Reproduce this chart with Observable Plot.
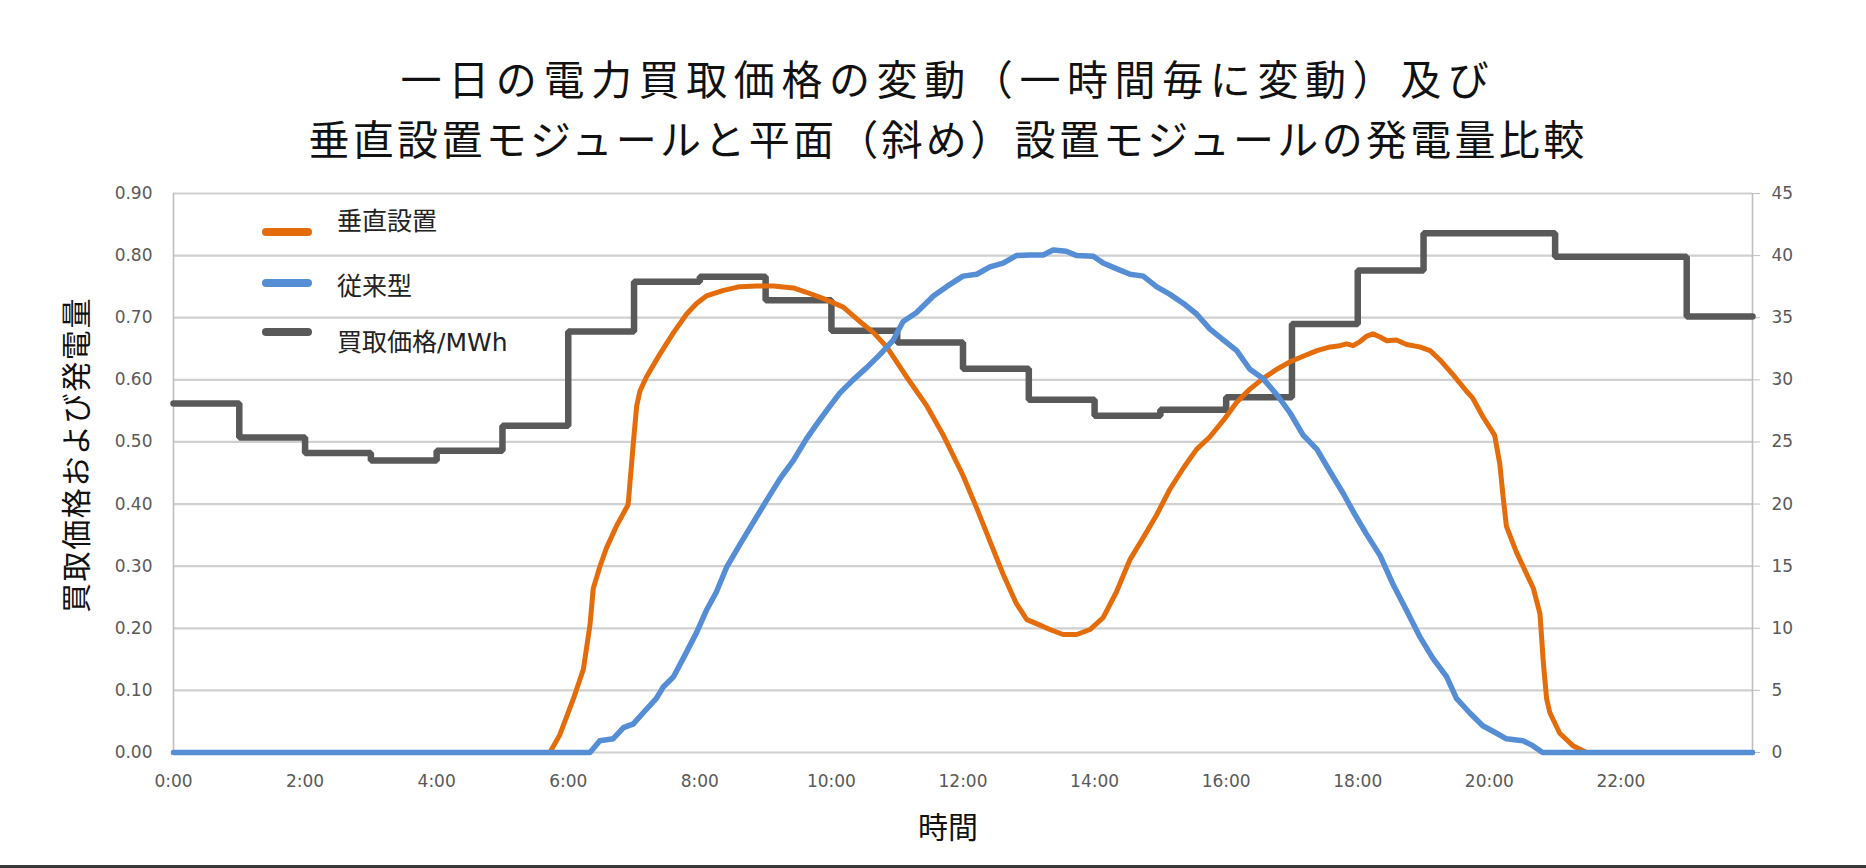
<!DOCTYPE html>
<html>
<head>
<meta charset="utf-8">
<script src="https://cdn.jsdelivr.net/npm/d3@7"></script>
<script src="https://cdn.jsdelivr.net/npm/@observablehq/plot@0.6"></script>
<style>
  html, body { margin: 0; padding: 0; background: #fff; }
  body { width: 1866px; height: 868px; position: relative; overflow: hidden;
         font-family: "Noto Sans CJK JP", "DejaVu Sans", sans-serif; color: #111; }
  .abs { position: absolute; }
  .title { left: 0; width: 1896px; text-align: center; font-size: 41px; line-height: 60px; height: 60px; white-space: nowrap; }
  .leg-sw { position: absolute; left: 262px; width: 50px; height: 8px; border-radius: 4px; }
  .leg-tx { position: absolute; left: 337px; font-size: 25px; line-height: 30px; height: 30px; white-space: nowrap;
            font-family: "DejaVu Sans", "Noto Sans CJK JP", sans-serif; color: #222; }
</style>
</head>
<body>
<div class="abs title" style="top:47px; letter-spacing:6.6px;">一日の電力買取価格の変動（一時間毎に変動）及び</div>
<div class="abs title" style="top:107px; letter-spacing:3.3px;">垂直設置モジュールと平面（斜め）設置モジュールの発電量比較</div>
<div id="chart" class="abs" style="left:0; top:170px;"></div>
<div class="abs" style="left:-96px; top:437px; width:340px; height:36px; line-height:36px; text-align:center; font-size:30px; letter-spacing:1.6px; transform:rotate(-90deg); white-space:nowrap;">買取価格および発電量</div>
<div class="abs" style="left:848px; top:805px; width:200px; height:40px; line-height:40px; text-align:center; font-size:30px;">時間</div>

<div class="leg-sw" style="top:228px; background:#E46C0A;"></div>
<div class="leg-tx" style="top:207px;">垂直設置</div>
<div class="leg-sw" style="top:279px; background:#558ED5;"></div>
<div class="leg-tx" style="top:272px;">従来型</div>
<div class="leg-sw" style="top:328px; background:#595959;"></div>
<div class="leg-tx" style="top:328px;">買取価格/MWh</div>

<div class="abs" style="left:0; top:865px; width:1866px; height:3px; background:#3a3a3a;"></div>

<script>
// ---- data ----
const leftTicks = [0, 0.1, 0.2, 0.3, 0.4, 0.5, 0.6, 0.7, 0.8, 0.9];
const rightTicks = [0, 5, 10, 15, 20, 25, 30, 35, 40, 45];
const hourTicks = [0, 2, 4, 6, 8, 10, 12, 14, 16, 18, 20, 22];
const hourLabels = ["0:00", "2:00", "4:00", "6:00", "8:00", "10:00", "12:00", "14:00", "16:00", "18:00", "20:00", "22:00"];

// 買取価格/MWh (right axis), hourly steps starting at each hour
const priceHours = [0, 1, 2, 3, 4, 5, 6, 7, 8, 9, 10, 11, 12, 13, 14, 15, 16, 17, 18, 19, 20, 21, 22, 23, 24];
const priceValues = [28.1, 25.35, 24.1, 23.5, 24.3, 26.3, 33.9, 37.9, 38.3, 36.4, 33.95, 33.0, 30.9, 28.4, 27.1, 27.6, 28.6, 34.5, 38.8, 41.8, 41.8, 39.9, 39.9, 35.1, 35.1];

// 垂直設置 [hour, output] (left axis)
const verticalSeries = [
  [0, 0], [5.72, 0], [5.87, 0.028], [6.08, 0.087], [6.23, 0.134], [6.33, 0.205], [6.38, 0.264], [6.48, 0.299],
  [6.58, 0.329], [6.73, 0.364], [6.91, 0.399], [6.99, 0.499], [7.04, 0.558], [7.09, 0.582], [7.19, 0.605],
  [7.39, 0.641], [7.60, 0.676], [7.80, 0.706], [7.95, 0.723], [8.10, 0.735], [8.36, 0.744], [8.61, 0.750],
  [8.86, 0.751], [9.12, 0.751], [9.42, 0.748], [9.62, 0.741], [9.92, 0.729], [10.18, 0.717], [10.43, 0.694],
  [10.64, 0.676], [10.84, 0.653], [11.14, 0.605], [11.45, 0.558], [11.70, 0.511], [12.0, 0.446], [12.21, 0.393],
  [12.41, 0.340], [12.61, 0.287], [12.81, 0.240], [12.97, 0.214], [13.17, 0.205], [13.32, 0.198], [13.52, 0.190],
  [13.73, 0.190], [13.93, 0.198], [14.13, 0.217], [14.33, 0.258], [14.54, 0.311], [14.74, 0.346], [14.94, 0.382],
  [15.14, 0.423], [15.35, 0.458], [15.55, 0.488], [15.75, 0.508], [15.96, 0.535], [16.16, 0.564], [16.36, 0.585],
  [16.56, 0.602], [16.77, 0.617], [16.97, 0.629], [17.17, 0.638], [17.38, 0.647], [17.58, 0.653], [17.73, 0.655],
  [17.83, 0.658], [17.93, 0.655], [18.03, 0.661], [18.13, 0.670], [18.23, 0.674], [18.34, 0.669], [18.44, 0.663],
  [18.59, 0.664], [18.74, 0.657], [18.94, 0.653], [19.10, 0.647], [19.25, 0.632], [19.45, 0.608], [19.65, 0.582],
  [19.75, 0.570], [19.90, 0.541], [20.08, 0.511], [20.16, 0.464], [20.21, 0.411], [20.26, 0.364], [20.41, 0.323],
  [20.67, 0.264], [20.77, 0.223], [20.82, 0.146], [20.87, 0.087], [20.92, 0.064], [21.07, 0.031], [21.27, 0.011],
  [21.48, 0], [24, 0]
];

// 従来型 [hour, output] (left axis)
const conventionalSeries = [
  [0, 0], [6.33, 0], [6.48, 0.019], [6.68, 0.022], [6.84, 0.040], [6.99, 0.046], [7.14, 0.064], [7.34, 0.087],
  [7.44, 0.105], [7.60, 0.122], [7.75, 0.152], [7.95, 0.193], [8.10, 0.229], [8.25, 0.258], [8.41, 0.299],
  [8.61, 0.335], [8.81, 0.370], [9.01, 0.405], [9.22, 0.441], [9.42, 0.470], [9.62, 0.505], [9.82, 0.535],
  [9.98, 0.558], [10.13, 0.579], [10.33, 0.600], [10.54, 0.620], [10.74, 0.641], [10.94, 0.664], [11.09, 0.694],
  [11.29, 0.708], [11.55, 0.735], [11.75, 0.750], [12.00, 0.767], [12.21, 0.770], [12.41, 0.782], [12.61, 0.788],
  [12.81, 0.800], [13.02, 0.801], [13.22, 0.801], [13.37, 0.809], [13.57, 0.807], [13.73, 0.800], [13.98, 0.799],
  [14.13, 0.788], [14.33, 0.779], [14.54, 0.770], [14.74, 0.767], [14.94, 0.750], [15.14, 0.738], [15.35, 0.723],
  [15.55, 0.706], [15.75, 0.682], [15.96, 0.664], [16.16, 0.647], [16.36, 0.617], [16.56, 0.602], [16.77, 0.576],
  [16.97, 0.547], [17.17, 0.511], [17.38, 0.488], [17.58, 0.452], [17.78, 0.417], [17.93, 0.388], [18.13, 0.352],
  [18.34, 0.317], [18.54, 0.270], [18.74, 0.229], [18.94, 0.187], [19.14, 0.152], [19.35, 0.122], [19.50, 0.087],
  [19.70, 0.064], [19.90, 0.043], [20.11, 0.031], [20.26, 0.022], [20.51, 0.019], [20.66, 0.011], [20.81, 0], [24, 0]
];

// ---- build ----
const rightPerLeft = 45 / 0.9; // right axis units per left axis unit
const priceTable = priceHours.map((h, i) => ({h, price: priceValues[i]}));

const chart = Plot.plot({
  width: 1866,
  height: 695,
  marginTop: 23,
  marginBottom: 113,
  marginLeft: 173,
  marginRight: 114,
  x: {domain: [0, 24]},
  y: {domain: [0, 0.9]},
  style: {fontFamily: "DejaVu Sans, sans-serif", fontSize: "17px", color: "#595959", background: "#fff", overflow: "visible"},
  marks: [
    Plot.gridY(leftTicks, {stroke: "#d0d0d0", strokeOpacity: 1, strokeWidth: 2.2}),
    Plot.ruleX([0, 24], {stroke: "#bfbfbf", strokeWidth: 1.6}),
    Plot.axisY(leftTicks, {anchor: "left", tickSize: 0, tickPadding: 21, label: null, tickFormat: d => d.toFixed(2)}),
    Plot.axisY(rightTicks.map(v => v / rightPerLeft), {anchor: "right", tickSize: 7, tickPadding: 12, label: null,
      stroke: "#bfbfbf", tickFormat: d => String(Math.round(d * rightPerLeft))}),
    Plot.axisX(hourTicks, {anchor: "bottom", tickSize: 0, tickPadding: 22, label: null,
      tickFormat: d => hourLabels[hourTicks.indexOf(d)]}),
    Plot.line(priceTable, {x: "h", y: d => d.price / rightPerLeft, curve: "step-after",
      stroke: "#595959", strokeWidth: 6.5, strokeLinejoin: "miter"}),
    Plot.line(verticalSeries, {x: d => d[0], y: d => d[1], stroke: "#E46C0A", strokeWidth: 5, curve: "linear"}),
    Plot.line(conventionalSeries, {x: d => d[0], y: d => d[1], stroke: "#558ED5", strokeWidth: 5.5, curve: "linear"})
  ]
});
document.getElementById("chart").appendChild(chart);
</script>
</body>
</html>
